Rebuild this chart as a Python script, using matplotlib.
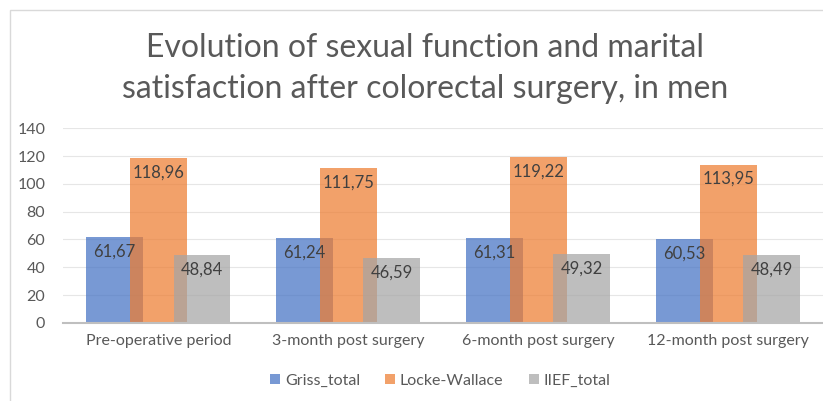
import matplotlib
matplotlib.use("Agg")
import matplotlib.pyplot as plt
import numpy as np
from matplotlib.patches import Rectangle

categories = ["Pre-operative period", "3-month post surgery", "6-month post surgery", "12-month post surgery"]
griss = [61.67, 61.24, 61.31, 60.53]
locke = [118.96, 111.75, 119.22, 113.95]
iief = [48.84, 46.59, 49.32, 48.49]
series_names = ["Griss_total", "Locke-Wallace", "IIEF_total"]
colors = ["#4472C4", "#ED7D31", "#A5A5A5"]
yticks = [0, 20, 40, 60, 80, 100, 120, 140]

plt.rcParams['font.family'] = ['Lato', 'DejaVu Sans']

fig = plt.figure(figsize=(8.23, 4.01), dpi=100)
ax = fig.add_axes([0.077, 0.195, 0.923, 0.485])

x = np.arange(len(categories))
width = 0.30
offsets = [-0.23, 0.0, 0.23]
for vals, off, col, name in zip([griss, locke, iief], offsets, colors, series_names):
    bars = ax.bar(x + off, vals, width, color=col, alpha=0.72, label=name, zorder=2, linewidth=0)
    for b, v in zip(bars, vals):
        ax.text(b.get_x() + b.get_width() / 2, v - 10.5, f"{v:.2f}".replace(".", ","),
                ha="center", va="center", fontsize=12, color="#404040", zorder=3)

ax.set_xlim(-0.5, len(categories) - 0.5)
ax.set_ylim(0, 140)
ax.set_yticks(yticks)
ax.set_xticks(x)
ax.set_xticklabels(categories)
ax.yaxis.grid(True, color="#E6E6E6", linewidth=0.8, zorder=0)
ax.set_axisbelow(True)
for s in ["top", "right", "left"]:
    ax.spines[s].set_visible(False)
ax.spines["bottom"].set_color("#BFBFBF")
ax.spines["bottom"].set_linewidth(1.5)
ax.tick_params(axis="both", length=0, labelsize=11.5, colors="#595959", pad=8)
ax.tick_params(axis="y", pad=13)

fig.text(0.517, 0.83, "Evolution of sexual function and marital\nsatisfaction after colorectal surgery, in men",
         ha="center", va="center", fontsize=23, color="#595959", linespacing=1.45)

leg = fig.legend(loc="center", bbox_to_anchor=(0.535, 0.05), ncol=3, frameon=False,
                 fontsize=11.5, handlelength=0.6, handleheight=0.6, handletextpad=0.3, columnspacing=1.6)
for t in leg.get_texts():
    t.set_color("#595959")

fig.patches.append(Rectangle((0.012, -0.05), 1.2, 1.025, transform=fig.transFigure,
                             fill=False, edgecolor="#D9D9D9", linewidth=1))

fig.savefig("out.png", dpi=100)
